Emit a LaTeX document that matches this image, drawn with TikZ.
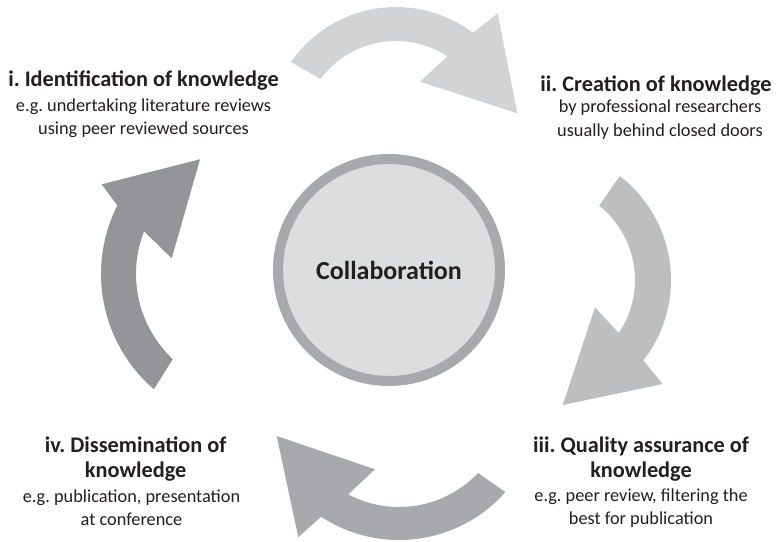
\documentclass[tikz,border=0pt]{standalone}
\usepackage{fontspec}
\setmainfont{Carlito}
\usetikzlibrary{calc}
\definecolor{arrTop}{HTML}{D1D3D4}
\definecolor{arrRight}{HTML}{BCBEC0}
\definecolor{arrBottom}{HTML}{A7A9AC}
\definecolor{arrLeft}{HTML}{939598}
\definecolor{ringC}{HTML}{A7A9AC}
\definecolor{fillC}{HTML}{DCDDDE}
\definecolor{txt}{HTML}{231F20}
\frenchspacing
\begin{document}
\begin{tikzpicture}[x=1pt,y=1pt,
  headtxt/.style={align=center,text=txt,inner sep=0pt,font=\fontsize{22.3}{25}\selectfont\bfseries},
  bodytxt/.style={align=center,text=txt,inner sep=0pt,font=\fontsize{18.3}{23.3}\selectfont}]
\useasboundingbox (0,0) rectangle (778,541);
\fill[white] (0,0) rectangle (778,541);
% arc centres
\coordinate (T) at (396,406);
\coordinate (R) at (540,261);
\coordinate (B) at (399,143);
\coordinate (L) at (253,267);
% top arrow
\fill[arrTop] ($(T)+(145.2:128)$) arc[start angle=145.2,end angle=53,radius=128]
  -- (497.7,527.7) -- (517.3,427.7) -- (420,459.3)
  -- ($(T)+(56.8:94)$) arc[start angle=56.8,end angle=143.4,radius=94] -- cycle;
% right arrow
\fill[arrRight] ($(R)+(52.5:131)$) arc[start angle=52.5,end angle=-37.9,radius=131]
  -- (662.7,157) -- (562.7,136) -- (595,233.7)
  -- ($(R)+(-34:95)$) arc[start angle=-34,end angle=51.4,radius=95] -- cycle;
% bottom arrow
\fill[arrBottom] ($(B)+(-41.5:142)$) arc[start angle=-41.5,end angle=-123.3,radius=142]
  -- (298.3,3.7) -- (276.7,105) -- (375,71.7)
  -- ($(B)+(-117.8:109)$) arc[start angle=-117.8,end angle=-43.5,radius=109] -- cycle;
% left arrow
\fill[arrLeft] ($(L)+(229.3:152)$) arc[start angle=229.3,end angle=153.2,radius=152]
  -- (101.7,356.7) -- (200,381.7) -- (171.7,282.7)
  -- ($(L)+(158.6:117)$) arc[start angle=158.6,end angle=226.7,radius=117] -- cycle;
% centre circle
\node[circle,draw=ringC,fill=fillC,line width=10pt,minimum size=222pt,inner sep=0pt,
  text=txt,font=\fontsize{26}{30}\selectfont\bfseries] (collab) at (389,271) {Collaboration};
% texts
\node[headtxt] (h1) at (143.5,460) {i. Identification of knowledge};
\node[bodytxt] (b1) at (143.5,423) {e.g. undertaking literature reviews\\using peer reviewed sources};
\node[headtxt] (h2) at (656,455) {ii. Creation of knowledge};
\node[bodytxt] (b2) at (660,421.5) {by professional researchers\\usually behind closed doors};
\node[headtxt] (h3) at (641,82) {iii. Quality assurance of\\knowledge};
\node[bodytxt] (b3) at (641,33) {e.g. peer review, filtering the\\best for publication};
\node[headtxt] (h4) at (135.7,82) {iv. Dissemination of\\knowledge};
\node[bodytxt] (b4) at (131.5,33) {e.g. publication, presentation\\at conference};
\end{tikzpicture}
\end{document}
